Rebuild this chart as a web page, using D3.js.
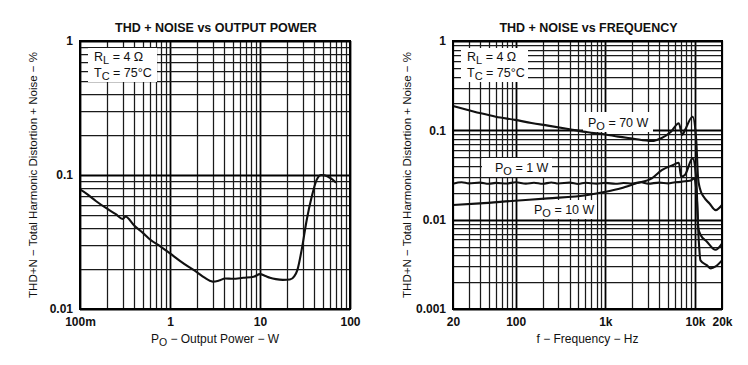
<!DOCTYPE html>
<html><head><meta charset="utf-8">
<script src="https://cdn.jsdelivr.net/npm/d3@7/dist/d3.min.js"></script>
<style>
html,body{margin:0;padding:0;background:#fff;}
svg{display:block;font-family:"Liberation Sans",Arial,sans-serif;}
</style></head>
<body>
<svg id="c" width="748" height="365"></svg>
<script>
// ---- Left chart: THD+N vs output power ----
const powerW = [0.1,0.12,0.15,0.2,0.25,0.3,0.32,0.4,0.5,0.6,0.8,1.0,1.3,1.6,2.0,2.4,2.8,3.0,3.5,4.1,5,6.5,8.5,10,11.5,12.9,15,18,21.5,24,26,29,33,37.6,42.6,48,52,57,63,70];
const thdVsPower = [0.078,0.072,0.064,0.056,0.051,0.047,0.049,0.042,0.037,0.033,0.029,0.026,0.0228,0.0207,0.0188,0.0172,0.0162,0.016,0.0163,0.0169,0.0168,0.0171,0.0174,0.0182,0.0176,0.0171,0.0167,0.0165,0.0166,0.0175,0.0195,0.0275,0.046,0.069,0.092,0.1,0.0995,0.097,0.093,0.0877];
const powerTicks = [0.1,1,10,100];
const powerTickLabels = ["100m","1","10","100"];
const leftYTicks = [0.01,0.1,1];
const leftYTickLabels = ["0.01","0.1","1"];

// ---- Right chart: THD+N vs frequency ----
const freq70 = [20,30,41,60,98,150,229,400,636,1000,1390,2000,3300,4200,5400,6600,7200,7700,9400,10300,10800,11300,12500,14500,17000,20000];
const thd70 = [0.187,0.168,0.155,0.142,0.131,0.121,0.113,0.103,0.095,0.09,0.085,0.081,0.076,0.0815,0.0966,0.12,0.0887,0.1,0.142,0.08,0.03,0.0226,0.018,0.0152,0.0128,0.0146];
const freq10 = [20,40,98,229,636,1000,1500,2200,3300,4300,5700,6600,7000,7700,9400,10300,10900,11600,13500,16900,20000];
const thd10 = [0.0146,0.0152,0.0163,0.0173,0.0189,0.0205,0.0225,0.0255,0.029,0.036,0.041,0.0434,0.0303,0.0316,0.0486,0.03,0.008,0.0067,0.0057,0.0046,0.0054];
const freq1 = [20,25,30,40,50,60,80,100,130,160,200,250,300,400,500,600,800,1000,1300,1600,2000,2500,3000,4000,5000,6000,7000,8000,9000,9800,10400,11000,11500,13500,15000,17000,20000];
const thd1 = [0.0253,0.0262,0.0255,0.026,0.0252,0.0258,0.0254,0.0262,0.0253,0.0259,0.0252,0.0261,0.0254,0.026,0.0251,0.0259,0.0253,0.0258,0.0252,0.0257,0.0254,0.0262,0.0253,0.026,0.0255,0.0262,0.0265,0.027,0.0275,0.029,0.02,0.006,0.0035,0.0031,0.00285,0.003,0.0035];
const freqTicks = [20,100,1000,10000,20000];
const freqTickLabels = ["20","100","1k","10k","20k"];
const rightYTicks = [0.001,0.01,0.1,1];
const rightYTickLabels = ["0.001","0.01","0.1","1"];

const svg = d3.select("#c");
const yTitle = "THD+N \u2212 Total Harmonic Distortion + Noise \u2212 %";

function logGridValues(lo, hi){
  const out=[];
  let d = Math.pow(10, Math.floor(Math.log10(lo)));
  for(; d<=hi*1.0001; d*=10){
    for(let k=1;k<10;k++){ const v=k*d; if(v>=lo*0.9999 && v<=hi*1.0001) out.push({v, major:k===1}); }
  }
  return out;
}

function panel(opt){
  const g = svg.append("g");
  const x = d3.scaleLog().domain(opt.xDomain).range([opt.x0, opt.x1]);
  const y = d3.scaleLog().domain(opt.yDomain).range([opt.y1, opt.y0]);
  const gx = logGridValues(opt.xDomain[0], opt.xDomain[1]);
  const gy = logGridValues(opt.yDomain[0], opt.yDomain[1]);
  g.append("g").selectAll("line").data(gx).join("line")
    .attr("x1",d=>Math.round(x(d.v))+0.5).attr("x2",d=>Math.round(x(d.v))+0.5)
    .attr("y1",opt.y0).attr("y2",opt.y1)
    .attr("stroke",d=>d.major?"#000":"#1a1a1a").attr("stroke-width",d=>d.major?1.8:1.25);
  g.append("g").selectAll("line").data(gy).join("line")
    .attr("y1",d=>Math.round(y(d.v))+0.5).attr("y2",d=>Math.round(y(d.v))+0.5)
    .attr("x1",opt.x0).attr("x2",opt.x1)
    .attr("stroke",d=>d.major?"#000":"#1a1a1a").attr("stroke-width",d=>d.major?1.8:1.25);
  opt.boxes.forEach(b=>{
    g.append("rect").attr("x",b.x).attr("y",b.y).attr("width",b.w).attr("height",b.h).attr("fill","#fff");
  });
  const line = d3.line().x(d=>x(d[0])).y(d=>y(d[1])).curve(d3.curveMonotoneX);
  opt.series.forEach(s=>{
    g.append("path").datum(s.xs.map((v,i)=>[v,s.ys[i]]))
      .attr("d",line).attr("fill","none").attr("stroke","#111").attr("stroke-width",2.1).attr("stroke-linejoin","round");
  });
  g.append("rect").attr("x",opt.x0).attr("y",opt.y0).attr("width",opt.x1-opt.x0).attr("height",opt.y1-opt.y0)
    .attr("fill","none").attr("stroke","#000").attr("stroke-width",2);
  const ax = d3.axisBottom(x).tickValues(opt.xTicks).tickFormat((d,i)=>opt.xTickLabels[i]).tickSize(0).tickPadding(8);
  g.append("g").attr("transform",`translate(0,${opt.y1})`).call(ax)
    .call(s=>s.select(".domain").remove())
    .selectAll("text").attr("font-size",12).attr("font-weight","bold").attr("fill","#111").attr("font-family","Liberation Sans, Arial, sans-serif");
  const ay = d3.axisLeft(y).tickValues(opt.yTicks).tickFormat((d,i)=>opt.yTickLabels[i]).tickSize(0).tickPadding(7);
  g.append("g").attr("transform",`translate(${opt.x0},0)`).call(ay)
    .call(s=>s.select(".domain").remove())
    .selectAll("text").attr("font-size",12).attr("font-weight","bold").attr("fill","#111").attr("font-family","Liberation Sans, Arial, sans-serif");
  g.append("text").attr("x",(opt.x0+opt.x1)/2+1).attr("y",32).attr("text-anchor","middle")
    .attr("font-size",12.5).attr("font-weight","bold").attr("fill","#111").text(opt.title);
  g.append("text").attr("transform",`translate(${opt.yTitleX},${(opt.y0+opt.y1)/2}) rotate(-90)`)
    .attr("text-anchor","middle").attr("dy","0.35em").attr("font-size",11.5).attr("fill","#111").text(yTitle);
  const xt = g.append("text").attr("x",(opt.x0+opt.x1)/2).attr("y",343).attr("text-anchor","middle")
    .attr("font-size",12).attr("fill","#111");
  opt.xTitle(xt);
  opt.notes.forEach(n=>{
    const t = g.append("text").attr("x",n.x).attr("y",n.y).attr("font-size",12.5).attr("fill","#111");
    t.append("tspan").text(n.a);
    t.append("tspan").attr("dy",3).attr("font-size",11).text(n.sub);
    t.append("tspan").attr("dy",-3).text(n.b);
  });
  return g;
}

panel({
  x0:80, x1:350, y0:41, y1:309,
  xDomain:[0.1,100], yDomain:[0.01,1],
  xTicks:powerTicks, xTickLabels:powerTickLabels,
  yTicks:leftYTicks, yTickLabels:leftYTickLabels,
  title:"THD + NOISE vs OUTPUT POWER",
  yTitleX:33,
  xTitle:t=>{t.append("tspan").text("P");t.append("tspan").attr("dy",3).attr("font-size",10.5).text("O");t.append("tspan").attr("dy",-3).text(" \u2212 Output Power \u2212 W");},
  boxes:[{x:88,y:48,w:69,h:34}],
  notes:[{x:94,y:61,a:"R",sub:"L",b:" = 4 \u03A9"},{x:94,y:77,a:"T",sub:"C",b:" = 75\u00B0C"}],
  series:[{xs:powerW, ys:thdVsPower}]
});

panel({
  x0:453, x1:722, y0:41, y1:309,
  xDomain:[20,20000], yDomain:[0.001,1],
  xTicks:freqTicks, xTickLabels:freqTickLabels,
  yTicks:rightYTicks, yTickLabels:rightYTickLabels,
  title:"THD + NOISE vs FREQUENCY",
  yTitleX:407,
  xTitle:t=>{t.text("f \u2212 Frequency \u2212 Hz");},
  boxes:[{x:461,y:48,w:67,h:34},{x:583,y:112,w:70,h:20},{x:482,y:158,w:70,h:19},{x:527,y:200,w:70,h:19}],
  notes:[{x:467,y:61,a:"R",sub:"L",b:" = 4 \u03A9"},{x:467,y:77,a:"T",sub:"C",b:" = 75\u00B0C"},
         {x:588,y:127,a:"P",sub:"O",b:" = 70 W"},{x:495,y:172,a:"P",sub:"O",b:" = 1 W"},{x:534,y:214,a:"P",sub:"O",b:" = 10 W"}],
  series:[{xs:freq70, ys:thd70},{xs:freq10, ys:thd10},{xs:freq1, ys:thd1}]
});
</script>
</body></html>
